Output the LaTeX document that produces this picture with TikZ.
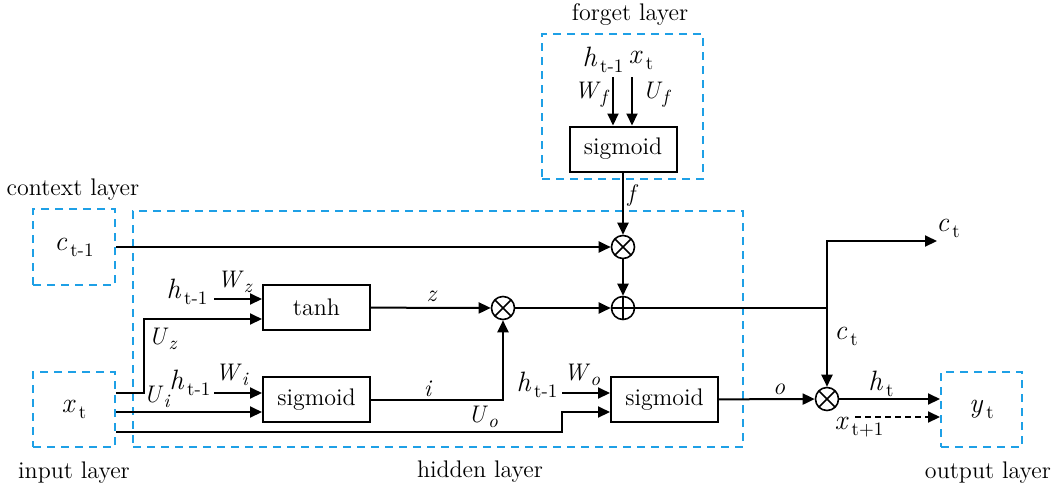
\documentclass[tikz,border=0pt]{standalone}
\usetikzlibrary{arrows.meta,calc}
\definecolor{layerblue}{RGB}{30,160,230}
\newcommand\symr[2]{{\fontsize{14}{16}\selectfont\textit{#1}}\hspace{1.5pt}{\fontsize{9.5}{11}\selectfont\raisebox{-3pt}{#2}}}
\newcommand\symi[2]{{\fontsize{12}{15}\selectfont\textit{#1}}{\fontsize{9.5}{12}\selectfont\raisebox{-2.5pt}{\textit{#2}}}}
\begin{document}
\begin{tikzpicture}[x=0.5pt,y=-0.5pt,
  every node/.style={font=\rmfamily\fontsize{12}{15}\selectfont, inner sep=0pt},
  layer/.style={draw=layerblue, dash pattern=on 4pt off 3pt, line width=1pt, rectangle},
  fbox/.style={draw, line width=1pt, rectangle, minimum width=53.5pt, minimum height=22.5pt},
  opx/.style={draw, circle, line width=0.8pt, minimum size=11.5pt,
    path picture={\draw[line width=0.8pt] (path picture bounding box.north west)--(path picture bounding box.south east)
      (path picture bounding box.north east)--(path picture bounding box.south west);}},
  opp/.style={draw, circle, line width=0.8pt, minimum size=11.5pt,
    path picture={\draw[line width=0.8pt] (path picture bounding box.north)--(path picture bounding box.south)
      (path picture bounding box.east)--(path picture bounding box.west);}},
  conn/.style={line width=1pt, -{Triangle[length=6pt,width=5.5pt]}},
  plain/.style={line width=1pt}
]
\useasboundingbox (0,0) rectangle (1055,489);

% layers
\node[layer, minimum width=41pt, minimum height=38pt] (ctx) at (74,247) {\symr{c}{t-1}};
\node[layer, minimum width=41pt, minimum height=37.5pt] (xin) at (74,409.5) {\symr{x}{t}};
\node[layer, minimum width=40.5pt, minimum height=37.5pt] (yout) at (981.5,409.5) {\symr{y}{t}};
\node[layer, minimum width=305pt, minimum height=118pt] (hidden) at (438,329) {};
\node[layer, minimum width=80.5pt, minimum height=72.5pt] (forget) at (622.5,106.5) {};

% layer labels
\node (lctx) at (73,190) {context layer};
\node (lin) at (74,473) {input layer};
\node (lhid) at (480,472) {hidden layer};
\node (lout) at (988,473) {output layer};
\node (lfor) at (630,15) {forget layer};

% function boxes
\node[fbox] (fsig) at (623,149) {sigmoid};
\node[fbox] (tanh) at (316.5,307.5) {tanh};
\node[fbox] (isig) at (316.5,399.5) {sigmoid};
\node[fbox] (osig) at (664.5,399.5) {sigmoid};

% operators
\node[opx] (fx) at (623,247) {};
\node[opx] (zx) at (503,308) {};
\node[opp] (plus) at (623,308) {};
\node[opx] (ox) at (827,399) {};

% forget gate inputs
\coordinate (fh) at (613,77);
\coordinate (fxx) at (632,77);
\draw[conn] (fh) -- (fh |- fsig.north);
\draw[conn] (fxx) -- (fxx |- fsig.north);
\node (lfh) at (603,60) {\symr{h}{t-1}};
\node (lfx) at (641,60) {\symr{x}{t}};
\node (lwf) at (592,95) {\symi{W}{f}};
\node (luf) at (657,95) {\symi{U}{f}};

\draw[conn] (fsig) -- (fx);
\node (lf) at (633,195) {\textit{f}};
\draw[conn] (ctx.east) -- (fx.west);
\draw[conn] (fx) -- (plus);

% candidate path
\draw[conn] (tanh) -- (zx);
\node (lz) at (432,296) {\textit{z}};
\draw[conn] (zx) -- (plus);
\draw[conn] (isig.east) -| (zx.south);
\node (li) at (428,389) {\textit{i}};

% cell output
\coordinate (J) at (plus -| ox);
\coordinate (ctend) at (937,241);
\draw[plain] (plus.east) -- (J);
\draw[conn] (J) |- (ctend);
\node[anchor=west] (lct) at (936,228) {\symr{c}{t}};
\draw[conn] (J) -- (ox);
\node (lct2) at (846,336) {\symr{c}{t}};
\draw[conn] (osig) -- (ox);
\node (lo) at (779,389) {\textit{o}};
\draw[conn] (ox.east) -- (ox.east -| yout.west);
\node (lht) at (881,384) {\symr{h}{t}};
\coordinate (xn) at (855,417);
\draw[conn, dash pattern=on 3pt off 2pt] (xn) -- (xn -| yout.west);
\node (lxn) at (859,427) {\symr{x}{t+1}};

% input x_t connections
\path (xin.east) ++(0,-16.5) coordinate (xa) ++(0,19) coordinate (xb) ++(0,20) coordinate (xc);
\draw[conn] (xa) -- ++(28,0) |- ($(tanh.west)+(0,11.5)$);
\draw[conn] (xb) -- (xb -| isig.west);
\draw[conn] (xc) -- ++(446,0) |- ($(osig.west)+(0,12.5)$);
\node (luz) at (163,339) {\symi{U}{z}};
\node (lui) at (157,397) {\symi{U}{i}};
\node (luo) at (483,417) {\symi{U}{o}};

% recurrent h_{t-1} inputs
\coordinate (hz) at (214,299);
\coordinate (hi) at (214,393);
\coordinate (ho) at (562,393);
\draw[conn] (hz) -- (hz -| tanh.west);
\draw[conn] (hi) -- (hi -| isig.west);
\draw[conn] (ho) -- (ho -| osig.west);
\node (lhz) at (187,292) {\symr{h}{t-1}};
\node (lhi) at (190,383) {\symr{h}{t-1}};
\node (lho) at (537,385) {\symr{h}{t-1}};
\node (lwz) at (235,282) {\symi{W}{z}};
\node (lwi) at (232,375) {\symi{W}{i}};
\node (lwo) at (582,375) {\symi{W}{o}};
\end{tikzpicture}
\end{document}
